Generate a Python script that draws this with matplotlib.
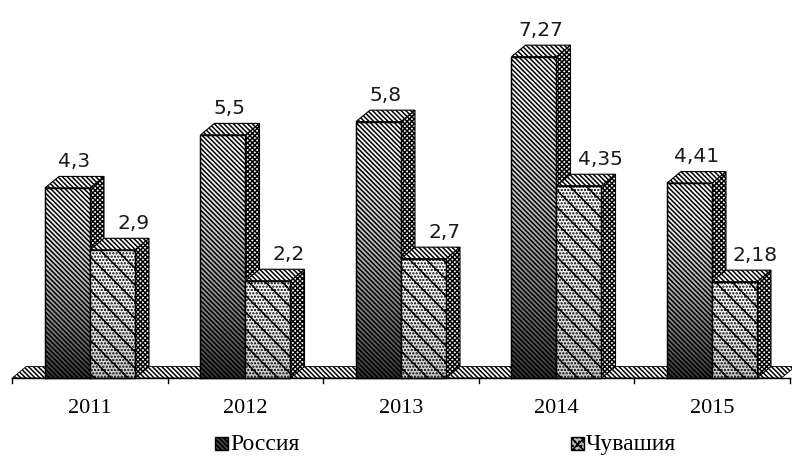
import numpy as np
import matplotlib
matplotlib.use("Agg")
import matplotlib.pyplot as plt
from matplotlib.patches import Polygon, Rectangle

years = ["2011", "2012", "2013", "2014", "2015"]
russia = [4.3, 5.5, 5.8, 7.27, 4.41]
chuvashia = [2.9, 2.2, 2.7, 4.35, 2.18]
series_names = ["Россия", "Чувашия"]

plt.rcParams["hatch.linewidth"] = 1.1

W, H = 792, 465
fig = plt.figure(figsize=(W / 100, H / 100), dpi=100)
ax = fig.add_axes([0, 0, 1, 1])

# one category = 155.5 px, one unit of value = 44.2 px, baseline 87 px from bottom
cat_px, val_px, base_px = 155.5, 44.2, 87
x0_px = 90
ax.set_xlim(-x0_px / cat_px, (W - x0_px) / cat_px)
ax.set_ylim(-base_px / val_px, (H - base_px) / val_px)
ax.axis("off")

bw = 45 / cat_px      # front face width
dx = 14 / cat_px      # depth offset
dy = 11.5 / val_px

DIAG = "\\" * 7
CROSS = "x" * 7


def box(x, h, front_hatch, shade, z):
    front = Polygon([(x, 0), (x + bw, 0), (x + bw, h), (x, h)], closed=True,
                    facecolor="white", edgecolor="black", hatch=front_hatch,
                    lw=0.8, zorder=z)
    side = Polygon([(x + bw, 0), (x + bw + dx, dy), (x + bw + dx, h + dy), (x + bw, h)],
                   closed=True, facecolor="white", edgecolor="black",
                   hatch=CROSS, lw=0.8, zorder=z)
    top = Polygon([(x, h), (x + bw, h), (x + bw + dx, h + dy), (x + dx, h + dy)],
                  closed=True, facecolor="white", edgecolor="black",
                  hatch=DIAG, lw=0.8, zorder=z)
    for p in (side, top, front):
        ax.add_patch(p)
    # darker towards the floor
    grad = (shade * np.linspace(1, 0, 100) ** 1.5).reshape(-1, 1)
    img = ax.imshow(np.zeros((100, 1)), extent=(x, x + bw, 0, h), cmap="gray",
                    alpha=grad, aspect="auto", zorder=z + 0.1, origin="lower")
    img.set_clip_path(front)
    ax.plot([x, x + bw, x + bw, x, x], [0, 0, h, h, 0], color="black",
            lw=1.0, zorder=z + 0.2)


# floor slab
floor = Polygon([(-0.5, 0), (4.5 - dx * 0.6, 0), (4.5 + dx * 0.4, dy), (-0.5 + dx, dy)],
                closed=True, facecolor="white", edgecolor="black",
                hatch=DIAG, lw=0.6, zorder=1)
ax.add_patch(floor)

for i in range(len(years)):
    box(i - bw, russia[i], DIAG, 0.8, 2)
    box(i, chuvashia[i], "....." + "\\\\", 0.2, 3)
    ax.text(i - bw / 2 + 7 / cat_px, russia[i] + dy + 0.12,
            f"{russia[i]:g}".replace(".", ","), ha="center", va="bottom",
            fontsize=14.5, family="DejaVu Sans", color="#1a1a1a", zorder=5)
    ax.text(i + bw / 2 + 21 / cat_px, chuvashia[i] + dy + 0.12,
            f"{chuvashia[i]:g}".replace(".", ","), ha="center", va="bottom",
            fontsize=14.5, family="DejaVu Sans", color="#1a1a1a", zorder=5)

# category axis
ax.plot([-0.5, 4.5], [0, 0], color="black", lw=1, zorder=4)
for t in np.arange(-0.5, 4.6, 1.0):
    ax.plot([t, t], [0, -5 / val_px], color="black", lw=1, zorder=4)
for i, y in enumerate(years):
    ax.text(i, -30 / val_px, y, ha="center", va="center", fontsize=16,
            family="Liberation Serif", zorder=5)

# legend
leg_hatch = [DIAG, "....xxx"]
leg_face = ["#444444", "#bbbbbb"]
for x_px, name, hatch, fc in zip([215, 571], series_names, leg_hatch, leg_face):
    fx, fy = x_px / W, 1 - 450 / H
    fig.patches.append(Rectangle((fx, fy), 13 / W, 13 / H, transform=fig.transFigure,
                                 facecolor=fc, edgecolor="black", hatch=hatch,
                                 lw=1.0))
    fig.text(fx + 15 / W, fy + 6 / H, name, ha="left", va="center", fontsize=17,
             family="Liberation Serif")

fig.savefig("out.png", dpi=100)
